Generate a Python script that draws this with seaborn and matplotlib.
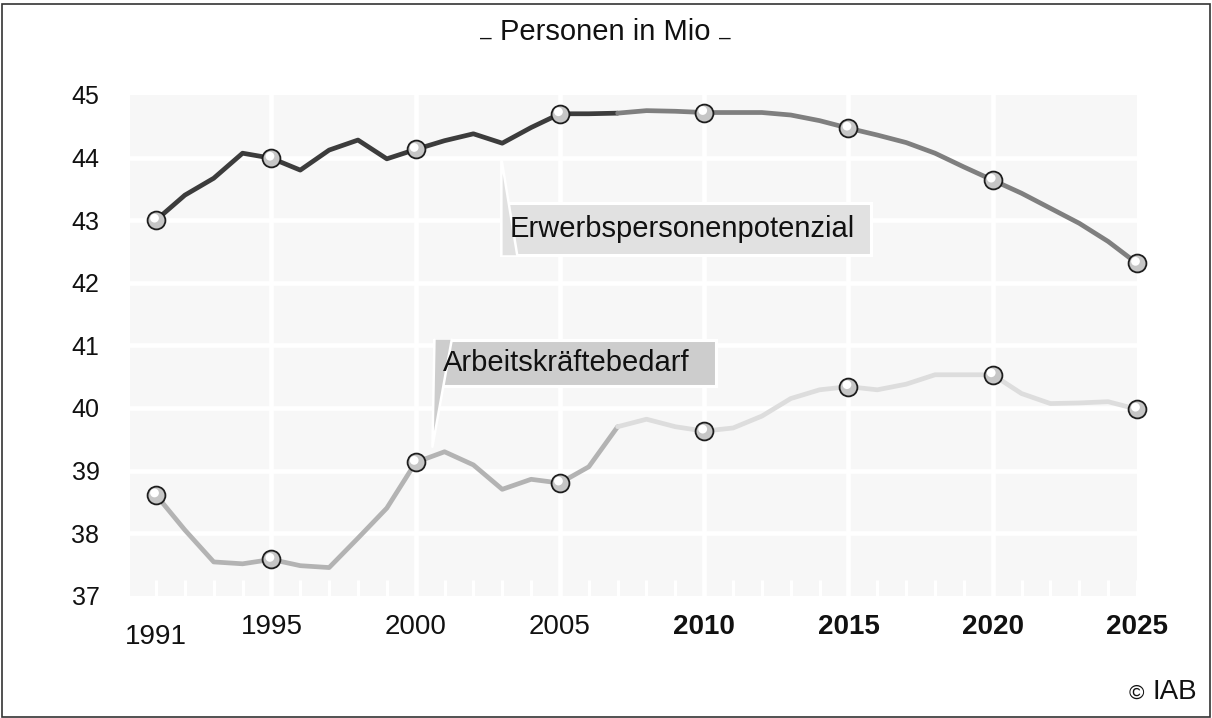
import numpy as np
import pandas as pd
import matplotlib
matplotlib.use('Agg')
import matplotlib.pyplot as plt
import matplotlib.transforms as mtransforms
from matplotlib.patches import Rectangle, Polygon
import seaborn as sns

# data (Mio persons)
years = list(range(1991, 2026))
potenzial = [43.00, 43.40, 43.67, 44.07, 43.99, 43.80, 44.12, 44.28, 43.98, 44.13,
             44.27, 44.38, 44.23, 44.48, 44.70, 44.70, 44.71, 44.75, 44.74, 44.72,
             44.72, 44.72, 44.68, 44.59, 44.47, 44.36, 44.24, 44.07, 43.85, 43.64,
             43.43, 43.19, 42.95, 42.66, 42.31]
bedarf = [38.61, 38.05, 37.54, 37.51, 37.58, 37.48, 37.45, 37.92, 38.40, 39.13,
          39.30, 39.09, 38.70, 38.86, 38.80, 39.06, 39.70, 39.82, 39.70, 39.63,
          39.68, 39.87, 40.15, 40.29, 40.34, 40.29, 40.38, 40.53, 40.53, 40.53,
          40.23, 40.07, 40.08, 40.10, 39.98]
marker_years = [1991, 1995, 2000, 2005, 2010, 2015, 2020, 2025]
tick_labels = ['1991', '1995', '2000', '2005', '2010', '2015', '2020', '2025']
split_year = 2007  # history -> projection
y_ticks = [37, 38, 39, 40, 41, 42, 43, 44, 45]

df = pd.DataFrame({'year': years * 2,
                   'value': potenzial + bedarf,
                   'series': ['Erwerbspersonenpotenzial'] * len(years) + ['Arbeitskräftebedarf'] * len(years)})

line_colors = {('Erwerbspersonenpotenzial', 'hist'): '#3c3c3c',
               ('Erwerbspersonenpotenzial', 'proj'): '#7f7f7f',
               ('Arbeitskräftebedarf', 'hist'): '#b3b3b3',
               ('Arbeitskräftebedarf', 'proj'): '#dddddd'}

sns.set_theme(style='white')
plt.rcParams['font.family'] = ['Liberation Sans', 'DejaVu Sans']

fig = plt.figure(figsize=(12.12, 7.18), dpi=100)
ax = fig.add_axes([0.1073, 0.1703, 0.8308, 0.6974])
ax.set_facecolor('#f7f7f7')

# grid
for y in y_ticks[1:-1]:
    ax.axhline(y, color='white', lw=3.3, zorder=1)
for x in marker_years[1:-1]:
    ax.axvline(x, color='white', lw=3.3, zorder=1)

# lines, split into history and projection
for (name, seg), col in line_colors.items():
    if seg == 'hist':
        d = df[(df['series'] == name) & (df['year'] <= split_year)]
    else:
        d = df[(df['series'] == name) & (df['year'] >= split_year)]
    sns.lineplot(data=d, x='year', y='value', color=col, linewidth=3.4,
                 ax=ax, zorder=4, legend=False)
for ln in ax.lines:
    ln.set_clip_on(False)
    ln.set_solid_joinstyle('round')

# sphere-like markers
dm = df[df['year'].isin(marker_years)]
sns.scatterplot(data=dm, x='year', y='value', s=165, color='#c6c6c6',
                edgecolor='#1e1e1e', linewidth=1.3, ax=ax, zorder=6, legend=False)
base = ax.collections[-1]
base.set_clip_on(False)
sns.scatterplot(data=dm, x='year', y='value', s=40, color='white',
                edgecolor='none', linewidth=0, ax=ax, zorder=7, legend=False)
hl = ax.collections[-1]
hl.set_clip_on(False)
hl.set_offset_transform(mtransforms.offset_copy(ax.transData, fig=fig, x=-1.5, y=2.0, units='dots'))

# callout labels
def callout(x0, x1, y0, y1, apex, base_w, top, text, fc):
    yb = y0 if top else y1
    pts = [(x0, yb), apex, (x0 + base_w, yb)]
    ax.add_patch(Rectangle((x0, y0), x1 - x0, y1 - y0, fc=fc, ec='white',
                           lw=2.2, zorder=3, clip_on=False))
    ax.add_patch(Polygon(pts, closed=True, fc=fc, ec='none', zorder=3))
    xs, ys = zip(*pts)
    ax.plot(xs, ys, color='white', lw=1.8, zorder=3)
    ax.text(x0 + 0.28, (y0 + y1) / 2, text, fontsize=21, ha='left',
            va='center', color='#111111', zorder=5)

callout(2002.97, 2015.78, 42.44, 43.27, (2002.97, 43.99), 0.55, True,
        'Erwerbspersonenpotenzial', '#e1e1e1')
callout(2000.65, 2010.41, 40.35, 41.09, (2000.58, 39.38), 0.6, False,
        'Arbeitskräftebedarf', '#cdcdcd')

# axes
ax.set_xlim(1990.1, 2025)
ax.set_ylim(37, 45)
ax.set_xticks(marker_years)
ax.set_xticklabels(tick_labels, fontsize=20)
ax.set_xticks(years, minor=True)
ax.set_yticks(y_ticks)
ax.set_yticklabels([str(v) for v in y_ticks], fontsize=18)
for i, lab in enumerate(ax.get_xticklabels()):
    lab.set_color('#111111')
    if i >= 4:
        lab.set_fontweight('bold')
ax.tick_params(axis='x', which='both', direction='in', length=11.5, width=2.3,
               color='white', pad=13, bottom=True, top=False)
ax.xaxis.get_major_ticks()[0].set_pad(20)
ax.tick_params(axis='y', length=0, pad=22, labelcolor='#111111')
ax.set_xlabel('')
ax.set_ylabel('')
for sp in ax.spines.values():
    sp.set_visible(False)

fig.text(0.4995, 0.955, 'Personen in Mio', fontsize=21, ha='center',
         va='center', color='#111111')
fig.text(0.401, 0.947, '–', fontsize=15, ha='center', va='center', color='#111111')
fig.text(0.598, 0.947, '–', fontsize=15, ha='center', va='center', color='#111111')
fig.text(0.988, 0.027, 'IAB', fontsize=20, ha='right', va='baseline', color='#111111')
fig.text(0.944, 0.027, '©', fontsize=15, ha='right', va='baseline', color='#111111')
fig.patches.append(Rectangle((0.002, 0.002), 0.996, 0.993, transform=fig.transFigure,
                             fill=False, ec='#333333', lw=1.2))

fig.savefig('out.png', dpi=100)
